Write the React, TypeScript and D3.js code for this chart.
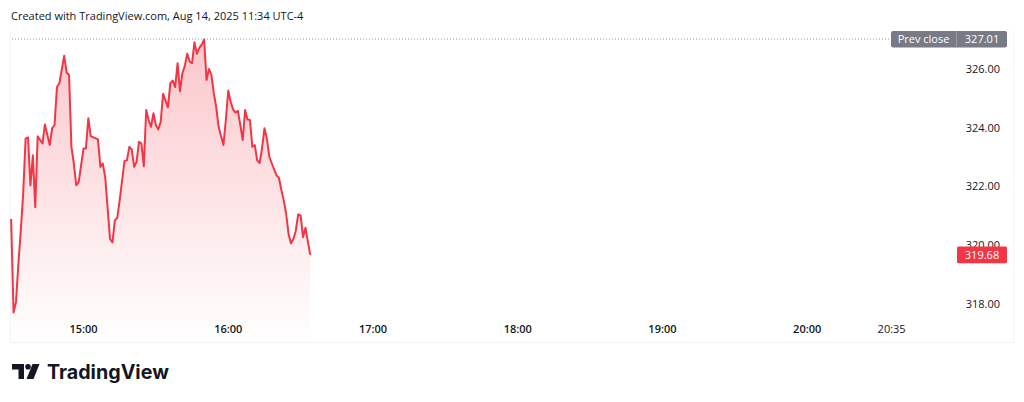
import React from "react";
import * as d3 from "d3";

const times: string[] = [
  "14:30","14:31","14:32","14:33","14:34","14:35","14:36","14:37","14:38","14:39","14:40","14:41",
  "14:43","14:44","14:46","14:47","14:48","14:49","14:50","14:52","14:53","14:54","14:55","14:56",
  "14:57","14:58","15:00","15:01","15:02","15:03","15:06","15:07","15:08","15:09","15:11","15:12",
  "15:13","15:14","15:15","15:17","15:18","15:19","15:20","15:21","15:22","15:23","15:24","15:25",
  "15:26","15:27","15:28","15:29","15:30","15:31","15:32","15:33","15:35","15:36","15:37","15:38",
  "15:39","15:40","15:41","15:42","15:43","15:44","15:45","15:46","15:47","15:48","15:49","15:50",
  "15:51","15:52","15:53","15:54","15:55","15:56","15:58","15:59","16:00","16:01","16:02","16:03",
  "16:04","16:05","16:06","16:07","16:08","16:09","16:10","16:11","16:12","16:13","16:14","16:15",
  "16:16","16:17","16:18","16:20","16:21","16:22","16:23","16:24","16:25","16:26","16:27","16:28",
  "16:29","16:30","16:31","16:32","16:34"
];

const prices: number[] = [
  320.90,317.72,318.06,319.37,320.50,321.76,323.63,323.67,322.04,323.06,321.30,323.71,
  323.46,324.11,323.41,323.98,324.09,325.38,325.51,326.44,325.87,325.80,323.35,322.78,
  322.04,322.15,323.29,323.29,324.32,323.71,323.60,322.67,322.78,322.32,320.22,320.10,
  320.85,320.94,321.53,322.87,322.89,323.35,323.26,322.67,322.84,323.52,323.46,322.69,
  324.60,324.26,324.03,324.49,324.09,323.94,324.20,325.15,324.69,325.51,325.60,325.38,
  326.19,325.23,325.85,326.10,326.51,326.25,326.19,326.90,326.51,326.71,326.82,326.99,
  325.62,325.99,325.80,325.17,324.71,324.03,323.41,324.26,325.26,324.88,324.62,324.51,
  324.57,324.09,323.58,324.60,324.28,324.26,323.35,323.41,322.89,322.80,323.29,323.98,
  323.63,323.03,322.80,322.38,322.30,321.89,321.53,321.08,320.39,320.07,320.22,320.50,
  321.05,321.02,320.28,320.60,319.68
];

const priceTicks: number[] = [318, 320, 322, 324, 326];
const timeTicks: string[] = ["15:00", "16:00", "17:00", "18:00", "19:00", "20:00", "20:35"];
const boldTimeTicks: string[] = ["15:00", "16:00", "17:00", "18:00", "19:00", "20:00"];
const prevClose = 327.01;
const lastPrice = 319.68;
const headerText = "Created with TradingView.com, Aug 14, 2025 11:34 UTC-4";

const W = 1024;
const H = 402;
const RED = "#f23645";
const FONT = "'Open Sans', 'Noto Sans', sans-serif";

export default function App() {
  const parse = d3.timeParse("%H:%M");
  const data = times.map((t, i) => ({ t: parse(t) as Date, v: prices[i] }));

  const x = d3
    .scaleTime()
    .domain([parse("15:00") as Date, parse("20:00") as Date])
    .range([83.5, 807.2]);
  const y = d3.scaleLinear().domain([318, 326]).range([304.3, 68.8]);

  const plotBottom = 342;
  const line = d3
    .line<{ t: Date; v: number }>()
    .x((d) => x(d.t))
    .y((d) => y(d.v));
  const area = d3
    .area<{ t: Date; v: number }>()
    .x((d) => x(d.t))
    .y0(plotBottom)
    .y1((d) => y(d.v));

  const yPrev = y(prevClose);
  const yLast = y(lastPrice);

  return (
    <div style={{ position: "fixed", left: 0, top: 0, width: W, height: H, background: "#fff" }}>
      <svg width={W} height={H} viewBox={`0 0 ${W} ${H}`} style={{ display: "block" }}>
        <defs>
          <linearGradient id="areaGrad" x1="0" y1="0" x2="0" y2="1">
            <stop offset="0%" stopColor={RED} stopOpacity={0.28} />
            <stop offset="100%" stopColor={RED} stopOpacity={0.0} />
          </linearGradient>
        </defs>
        <rect x={0} y={0} width={W} height={H} fill="#fff" />

        <text x={11} y={19.5} fontFamily={FONT} fontSize={11} fill="#131722">
          {headerText}
        </text>

        {/* frame */}
        <line x1={10.5} y1={30} x2={10.5} y2={plotBottom} stroke="#f0f3fa" strokeWidth={1} />
        <line x1={1013.5} y1={30} x2={1013.5} y2={plotBottom} stroke="#f0f3fa" strokeWidth={1} />
        <line x1={10} y1={plotBottom + 0.5} x2={1014} y2={plotBottom + 0.5} stroke="#f0f3fa" strokeWidth={1} />

        {/* prev close dotted line */}
        <line
          x1={12}
          y1={yPrev}
          x2={891}
          y2={yPrev}
          stroke="#9598a1"
          strokeWidth={1}
          strokeDasharray="1 2"
        />

        <path d={area(data) || ""} fill="url(#areaGrad)" />
        <path d={line(data) || ""} fill="none" stroke={RED} strokeWidth={2} strokeLinejoin="round" />

        {/* price axis labels */}
        {priceTicks.map((p) => (
          <text
            key={p}
            x={1000}
            y={y(p)}
            dy="0.35em"
            textAnchor="end"
            fontFamily={FONT}
            fontSize={11}
            fill="#131722"
          >
            {p.toFixed(2)}
          </text>
        ))}

        {/* time axis labels */}
        {timeTicks.map((t) => (
          <text
            key={t}
            x={x(parse(t) as Date)}
            y={329}
            dy="0.35em"
            textAnchor="middle"
            fontFamily={FONT}
            fontSize={11}
            fontWeight={boldTimeTicks.includes(t) ? 600 : 400}
            fill="#131722"
          >
            {t}
          </text>
        ))}

        {/* prev close label */}
        <g>
          <rect x={891} y={yPrev - 8} width={116} height={16.5} rx={2} fill="#787b86" />
          <line x1={956.5} y1={yPrev - 8} x2={956.5} y2={yPrev + 8.5} stroke="#9a9da6" strokeWidth={1} />
          <text x={923.5} y={yPrev} dy="0.35em" textAnchor="middle" fontFamily={FONT} fontSize={11} fill="#fff">
            Prev close
          </text>
          <text x={982} y={yPrev} dy="0.35em" textAnchor="middle" fontFamily={FONT} fontSize={11} fill="#fff">
            {prevClose.toFixed(2)}
          </text>
        </g>

        {/* last price label */}
        <g>
          <rect x={957} y={yLast - 8.3} width={50} height={16.8} rx={1.5} fill={RED} />
          <text x={982} y={yLast} dy="0.35em" textAnchor="middle" fontFamily={FONT} fontSize={11} fill="#fff">
            {lastPrice.toFixed(2)}
          </text>
        </g>

        {/* TradingView logo */}
        <g fill="#131722">
          <path d="M12 364 H24 V379 H18.5 V369.5 H12 Z" />
          <circle cx={28} cy={366.8} r={2.8} />
          <path d="M32.5 364 H39.5 L33.5 379 H26.5 Z" />
          <text x={47} y={379} fontFamily="Inter, 'Open Sans', sans-serif" fontSize={19.7} fontWeight={700} fill="#131722">
            TradingView
          </text>
        </g>
      </svg>
    </div>
  );
}
